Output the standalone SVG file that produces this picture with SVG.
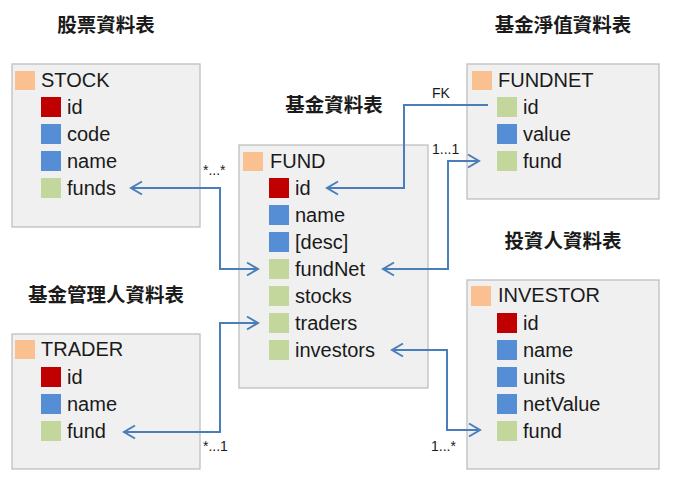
<svg xmlns="http://www.w3.org/2000/svg" width="674" height="483" viewBox="0 0 674 483">
<style>
.box{fill:#F0F0F0;stroke:#BFBFBF;stroke-width:1.3}
.hd{fill:#FAC090}
.pk{fill:#C00000}
.at{fill:#558ED5}
.fk{fill:#C3D69B}
.t{font-family:"Liberation Sans","Noto Sans",sans-serif;font-size:20px;fill:#1a1a1a}
.ti{font-family:"Noto Sans CJK TC","Noto Sans CJK SC",sans-serif;font-size:19.5px;font-weight:700;fill:#1a1a1a;text-anchor:middle}
.lb{font-family:"Liberation Sans","Noto Sans",sans-serif;font-size:14px;fill:#1a1a1a}
.cn{fill:none;stroke:#4A7EBB;stroke-width:2}
</style>
<defs>
<marker id="arr" markerUnits="userSpaceOnUse" viewBox="-13 -8 15 16" refX="0" refY="0" markerWidth="15" markerHeight="16" orient="auto-start-reverse">
<path d="M-11,-6.5 L0,0 L-11,6.5" fill="none" stroke="#4A7EBB" stroke-width="2"/>
</marker>
</defs>
<rect width="674" height="483" fill="#FFFFFF"/>

<g id="titles">
<text class="ti" x="106" y="32">股票資料表</text>
<text class="ti" x="334" y="112">基金資料表</text>
<text class="ti" x="563" y="32">基金淨值資料表</text>
<text class="ti" x="106" y="302">基金管理人資料表</text>
<text class="ti" x="563" y="248">投資人資料表</text>
</g>

<g id="stock">
<rect class="box" x="12" y="64" width="188" height="163"/>
<rect class="hd" x="15" y="71" width="20" height="19"/>
<text class="t" x="41" y="87">STOCK</text>
<rect class="pk" x="41" y="97" width="20" height="20"/><text class="t" x="67" y="114">id</text>
<rect class="at" x="41" y="124" width="20" height="20"/><text class="t" x="67" y="141">code</text>
<rect class="at" x="41" y="151" width="20" height="20"/><text class="t" x="67" y="168">name</text>
<rect class="fk" x="41" y="178" width="20" height="20"/><text class="t" x="67" y="195">funds</text>
</g>

<g id="fund">
<rect class="box" x="239" y="145" width="189" height="243"/>
<rect class="hd" x="243" y="152" width="20" height="19"/>
<text class="t" x="270" y="168">FUND</text>
<rect class="pk" x="269" y="178" width="20" height="20"/><text class="t" x="295" y="195">id</text>
<rect class="at" x="269" y="205" width="20" height="20"/><text class="t" x="295" y="222">name</text>
<rect class="at" x="269" y="232" width="20" height="20"/><text class="t" x="295" y="249">[desc]</text>
<rect class="fk" x="269" y="259" width="20" height="20"/><text class="t" x="295" y="276">fundNet</text>
<rect class="fk" x="269" y="286" width="20" height="20"/><text class="t" x="295" y="303">stocks</text>
<rect class="fk" x="269" y="313" width="20" height="20"/><text class="t" x="295" y="330">traders</text>
<rect class="fk" x="269" y="340" width="20" height="20"/><text class="t" x="295" y="357">investors</text>
</g>

<g id="fundnet">
<rect class="box" x="467" y="64" width="192" height="135"/>
<rect class="hd" x="472" y="71" width="20" height="19"/>
<text class="t" x="498" y="87">FUNDNET</text>
<rect class="fk" x="497" y="97" width="20" height="20"/><text class="t" x="523" y="114">id</text>
<rect class="at" x="497" y="124" width="20" height="20"/><text class="t" x="523" y="141">value</text>
<rect class="fk" x="497" y="151" width="20" height="20"/><text class="t" x="523" y="168">fund</text>
</g>

<g id="investor">
<rect class="box" x="467" y="280" width="192" height="189"/>
<rect class="hd" x="471" y="286" width="20" height="20"/>
<text class="t" x="498" y="302">INVESTOR</text>
<rect class="pk" x="497" y="313" width="20" height="20"/><text class="t" x="523" y="330">id</text>
<rect class="at" x="497" y="340" width="20" height="20"/><text class="t" x="523" y="357">name</text>
<rect class="at" x="497" y="367" width="20" height="20"/><text class="t" x="523" y="384">units</text>
<rect class="at" x="497" y="394" width="20" height="20"/><text class="t" x="523" y="411">netValue</text>
<rect class="fk" x="497" y="421" width="20" height="20"/><text class="t" x="523" y="438">fund</text>
</g>

<g id="trader">
<rect class="box" x="12" y="334" width="188" height="135"/>
<rect class="hd" x="15" y="340" width="20" height="19"/>
<text class="t" x="41" y="356">TRADER</text>
<rect class="pk" x="41" y="367" width="20" height="20"/><text class="t" x="67" y="384">id</text>
<rect class="at" x="41" y="394" width="20" height="20"/><text class="t" x="67" y="411">name</text>
<rect class="fk" x="41" y="421" width="20" height="20"/><text class="t" x="67" y="438">fund</text>
</g>

<g id="connectors">
<path class="cn" d="M258,269 H220 V188 H131" marker-start="url(#arr)" marker-end="url(#arr)"/>
<path class="cn" d="M488,105 H404 V188 H327" marker-end="url(#arr)"/>
<path class="cn" d="M383,269 H448 V161 H479" marker-start="url(#arr)" marker-end="url(#arr)"/>
<path class="cn" d="M258,323 H220 V432 H124" marker-start="url(#arr)" marker-end="url(#arr)"/>
<path class="cn" d="M392,350 H447 V430 H480" marker-start="url(#arr)" marker-end="url(#arr)"/>
<text class="lb" x="203" y="175">*...*</text>
<text class="lb" x="432" y="98">FK</text>
<text class="lb" x="432" y="154">1...1</text>
<text class="lb" x="203" y="451">*...1</text>
<text class="lb" x="431" y="451">1...*</text>
</g>
</svg>
